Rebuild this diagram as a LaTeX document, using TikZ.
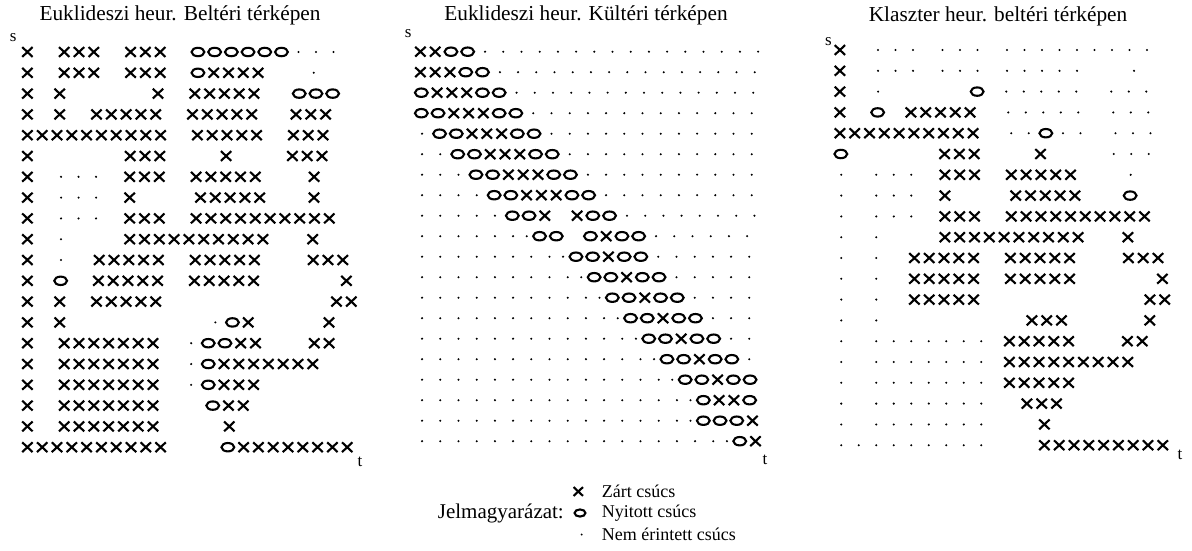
\documentclass[tikz,border=0pt]{standalone}
\usepackage{fontspec}
\setmainfont{Liberation Serif}
\usetikzlibrary{positioning}

\tikzset{
  closed/.pic={\draw[line width=2.1pt] (-5.2pt,-4.9pt) -- (5.2pt,4.9pt) (-5.2pt,4.9pt) -- (5.2pt,-4.9pt);},
  open/.pic={\draw[line width=2.1pt] (0,0) ellipse [x radius=6.4pt, y radius=4.2pt];},
  unseen/.pic={\fill (0,0) circle (1.15pt);},
  heading/.style={font=\fontsize{21.3}{24}\selectfont, inner sep=0pt},
  endlbl/.style={font=\fontsize{17}{19}\selectfont, inner sep=0pt},
  keytext/.style={font=\fontsize{18}{20}\selectfont, inner sep=0pt, anchor=west},
}

% one row of a map: x closed, o open, . untouched (dot pitch per map),
% : tight dot, - wall, * blank cell, + narrow gap
\newcount\rowno
\newcommand\advcell[1]{\pgfmathsetmacro\rowx{\rowx+#1}}
\expandafter\def\csname cellx\endcsname{\pic at (\rowx+7.4,\rowy) {closed};\advcell{14.8}}
\expandafter\def\csname cello\endcsname{\pic at (\rowx+8.35,\rowy) {open};\advcell{16.7}}
\expandafter\def\csname cell.\endcsname{\pic at (\rowx+0.5*\dotw,\rowy) {unseen};\advcell{\dotw}}
\expandafter\def\csname cell:\endcsname{\pic at (\rowx+4.5,\rowy) {unseen};\advcell{9}}
\expandafter\def\csname cell-\endcsname{\advcell{22}}
\expandafter\def\csname cell*\endcsname{\advcell{17.5}}
\expandafter\def\csname cell+\endcsname{\advcell{12}}
\def\scancells#1{\ifx#1\relax\else\csname cell#1\endcsname\expandafter\scancells\fi}
\newcommand\mapgrid[4]{\def\gridx{#1}\def\gridy{#2}\def\gridpitch{#3}\def\dotw{#4}\rowno=0 }
\newcommand\maprow[1]{\pgfmathsetmacro\rowy{\gridy+\gridpitch*\the\rowno}%
  \let\rowx\gridx\scancells#1\relax\advance\rowno by 1 }

\begin{document}
\begin{tikzpicture}[x=1pt,y=-1pt]
  \useasboundingbox (0,0) rectangle (1192,550);

  \node[heading] (title1) at (180,15) {Euklideszi heur. Beltéri térképen};
  \node[heading] (title2) at (586,15) {Euklideszi heur. Kültéri térképen};
  \node[heading] (title3) at (998,16) {Klaszter heur. beltéri térképen};

  % indoor map, euclidean heuristic
  \mapgrid{20}{52}{20.8}{17.5}
  \maprow{x-xxx-xxx-oooooo...}
  \maprow{x-xxx-xxx-oxxxx-*.}
  \maprow{x*x---*x-xxxxx*+ooo}
  \maprow{x*x-xxxxx-xxxxx*+xxx}
  \maprow{xxxxxxxxxx-xxxxx-xxx}
  \maprow{x----xxx-*+x-*+xxx}
  \maprow{x*...*xxx-xxxxx--x}
  \maprow{x*...*x--+xxxxx-*x}
  \maprow{x*...*xxx-xxxxxxxxxx}
  \maprow{x*.***xxxxxxxxxx**x}
  \maprow{x*.-xxxxx-xxxxx--xxx}
  \maprow{x*o-xxxxx-xxxxx---+x}
  \maprow{x*x-xxxxx-------+xx}
  \maprow{x*x-----*+.ox---x}
  \maprow{x-xxxxxxx-.ooxx--xx}
  \maprow{x-xxxxxxx-.oxxxxxxx}
  \maprow{x-xxxxxxx-.oxxx}
  \maprow{x-xxxxxxx--oxx}
  \maprow{x-xxxxxxx--*x}
  \maprow{xxxxxxxxxx-*+oxxxxxxxx}
  \node[endlbl] (s1) at (13.3,38) {s};
  \node[endlbl] (t1) at (360,461.7) {t};

  % outdoor map, euclidean heuristic
  \mapgrid{413}{51.7}{20.5}{18.2}
  \maprow{xxoo................}
  \maprow{xxxoo...............}
  \maprow{oxxxoo..............}
  \maprow{ooxxxoo.............}
  \maprow{.ooxxxoo............}
  \maprow{..ooxxxoo...........}
  \maprow{...ooxxxoo..........}
  \maprow{....ooxxxoo.........}
  \maprow{.....oox*xoo........}
  \maprow{......:oo*oxoo......}
  \maprow{........:ooxoo......}
  \maprow{.........:ooxoo.....}
  \maprow{..........:ooxoo....}
  \maprow{...........:ooxoo...}
  \maprow{............:ooxoo..}
  \maprow{.............:ooxoo.}
  \maprow{..............:ooxoo}
  \maprow{...............:oxxo}
  \maprow{...............:ooox}
  \maprow{.................:ox}
  \node[endlbl] (s2) at (408.3,33.3) {s};
  \node[endlbl] (t2) at (765,460) {t};

  % indoor map, cluster heuristic
  \mapgrid{832.5}{50}{20.8}{17.5}
  \maprow{x-...+...+.........}
  \maprow{x-...+...+.....-*.}
  \maprow{x-.**+**o+.....*...}
  \maprow{x-o*xxxxx-.....*...}
  \maprow{xxxxxxxxxx-..o..*...}
  \maprow{o----xxx-*+x-**...}
  \maprow{.*...*xxx-xxxxx--.}
  \maprow{.*...*x--+xxxxx-*o}
  \maprow{.*...*xxx-xxxxxxxxxx}
  \maprow{.*.***xxxxxxxxxx**x}
  \maprow{.*.-xxxxx-xxxxx--xxx}
  \maprow{.*.-xxxxx-xxxxx---+x}
  \maprow{.*.-xxxxx------*+xx}
  \maprow{.*.-----*+xxx--*+x}
  \maprow{.*.......+xxxxx--xx}
  \maprow{.*.......+xxxxxxxxx}
  \maprow{.*.......+xxxxx}
  \maprow{.*.......+*xxx}
  \maprow{.*.......+**x}
  \maprow{.........+**xxxxxxxxx}
  \node[endlbl] (s3) at (828.3,41.7) {s};
  \node[endlbl] (t3) at (1180,455) {t};

  % legend
  \node[keytext] (zart) at (601.7,491.5) {Zárt csúcs};
  \node[keytext] (nyitott) at (601.7,513) {Nyitott csúcs};
  \node[keytext] (nem) at (601.7,534.5) {Nem érintett csúcs};
  \node[font=\fontsize{21}{23}\selectfont, inner sep=0pt, anchor=east] (key) at (564,513) {Jelmagyarázat:};
  \pic[scale=0.9] at ([xshift=-23.4pt]zart.west) {closed};
  \pic[scale=0.85] at ([xshift=-21.7pt]nyitott.west) {open};
  \pic[scale=0.9] at ([xshift=-20pt]nem.west) {unseen};
\end{tikzpicture}
\end{document}
